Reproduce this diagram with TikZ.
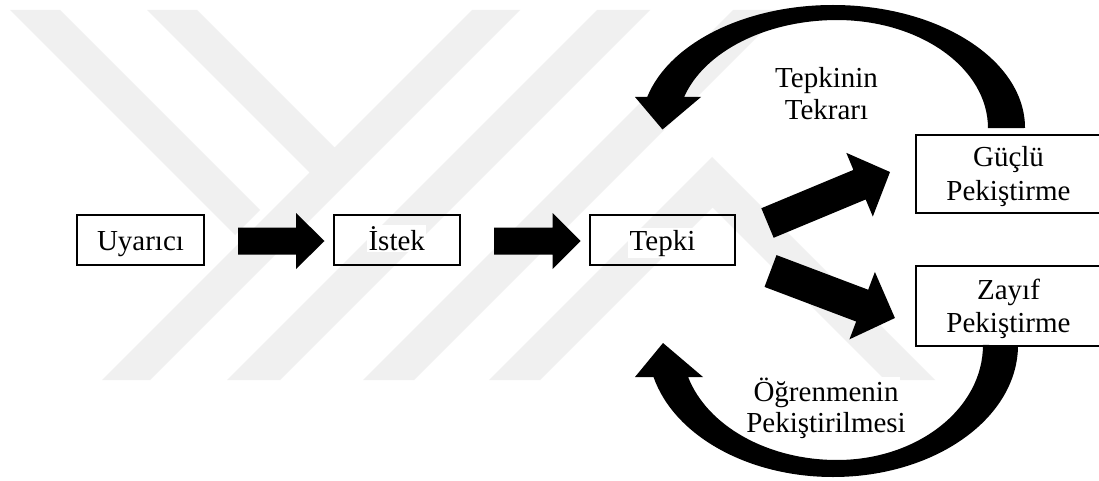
\documentclass[tikz,border=0pt]{standalone}
\usepackage{fontspec}
\setmainfont{Liberation Serif}
\newcommand{\blockarr}[7]{%
  \fill[black,shift={(#1,#2)},rotate=#3] (0,-#6) -- ({#4-#5},-#6) -- ({#4-#5},-#7) -- (#4,0) -- ({#4-#5},#7) -- ({#4-#5},#6) -- (0,#6) -- cycle;}
\begin{document}
\begin{tikzpicture}[x=1pt,y=-1pt,
  box/.style={draw=black,line width=2pt,inner sep=0pt},
  txt/.style={anchor=base,inner sep=1.5pt,fill=white,font=\fontsize{29}{33}\selectfont},
  wm/.style={fill=black!6}]
\useasboundingbox (0,0) rectangle (1099,481);
\fill[white] (0,0) rectangle (1099,481);
% watermark
\fill[wm] (10,10) -- (60,10) -- (260,210) -- (235,235) -- cycle;
\fill[wm] (147,10) -- (197,10) -- (334.5,147.5) -- (472,10) -- (520,10) -- (150,380) -- (102,380) -- (309.5,172.5) -- cycle;
\fill[wm] (597,10) -- (650,10) -- (280,380) -- (227,380) -- cycle;
\fill[wm] (733,10) -- (784,10) -- (414,380) -- (363,380) -- cycle;
\fill[wm] (489,380) -- (712,157) -- (935,380) -- (885,380) -- (712.5,207.5) -- (540,380) -- cycle;
% texts
\node[txt] (t1) at (140.5,250) {Uyarıcı};
\node[txt] (t2) at (396.75,250) {İstek};
\node[txt] (t3) at (662.5,250) {Tepki};
\node[txt] (t4a) at (1008.5,167) {Güçlü};
\node[txt] (t4b) at (1008.5,200.5) {Pekiştirme};
\node[txt] (t5a) at (1008.5,299) {Zayıf};
\node[txt] (t5b) at (1008.5,332.5) {Pekiştirme};
\node[txt] (l1a) at (826.5,87.5) {Tepkinin};
\node[txt] (l1b) at (826.5,120) {Tekrarı};
\node[txt] (l2a) at (826,401.5) {Öğrenmenin};
\node[txt] (l2b) at (826,432) {Pekiştirilmesi};
% boxes
\node[box,minimum width=127pt,minimum height=50pt] (uyarici) at (140.5,240) {};
\node[box,minimum width=126.5pt,minimum height=50pt] (istek) at (396.75,240) {};
\node[box,minimum width=145pt,minimum height=50pt] (tepki) at (662.5,240) {};
\node[box,minimum width=188pt,minimum height=78pt] (guclu) at (1010,174) {};
\node[box,minimum width=188pt,minimum height=80pt] (zayif) at (1010,306) {};
% straight block arrows
\blockarr{238}{241}{0}{86.5}{28.5}{13.5}{28}
\blockarr{494}{241}{0}{86.6}{28}{13.5}{28}
\blockarr{767.5}{223}{22.6}{132.7}{33}{16}{34.5}
\blockarr{770.5}{271}{-20.7}{133}{35}{17}{36}
% curved arrows
\fill[black] (1025,128) arc[start angle=0,end angle=-90,x radius=192,y radius=123]
  arc[start angle=-90,end angle=-165.4,x radius=192,y radius=123]
  -- (635,97) -- (662.5,129.5) -- (701,97) -- (684.1,97)
  arc[start angle=-163.3,end angle=-90,x radius=159.6,y radius=108]
  arc[start angle=-90,end angle=0,x radius=151,y radius=108] -- cycle;
\fill[black] (1018,345) arc[start angle=0,end angle=90,x radius=185,y radius=132]
  arc[start angle=90,end angle=165.97,x radius=185,y radius=132]
  -- (635,377) -- (663,343) -- (703,377) -- (688.1,377)
  arc[start angle=163.84,end angle=90,x radius=155,y radius=115]
  arc[start angle=90,end angle=0,x radius=146,y radius=115] -- cycle;
\end{tikzpicture}
\end{document}
